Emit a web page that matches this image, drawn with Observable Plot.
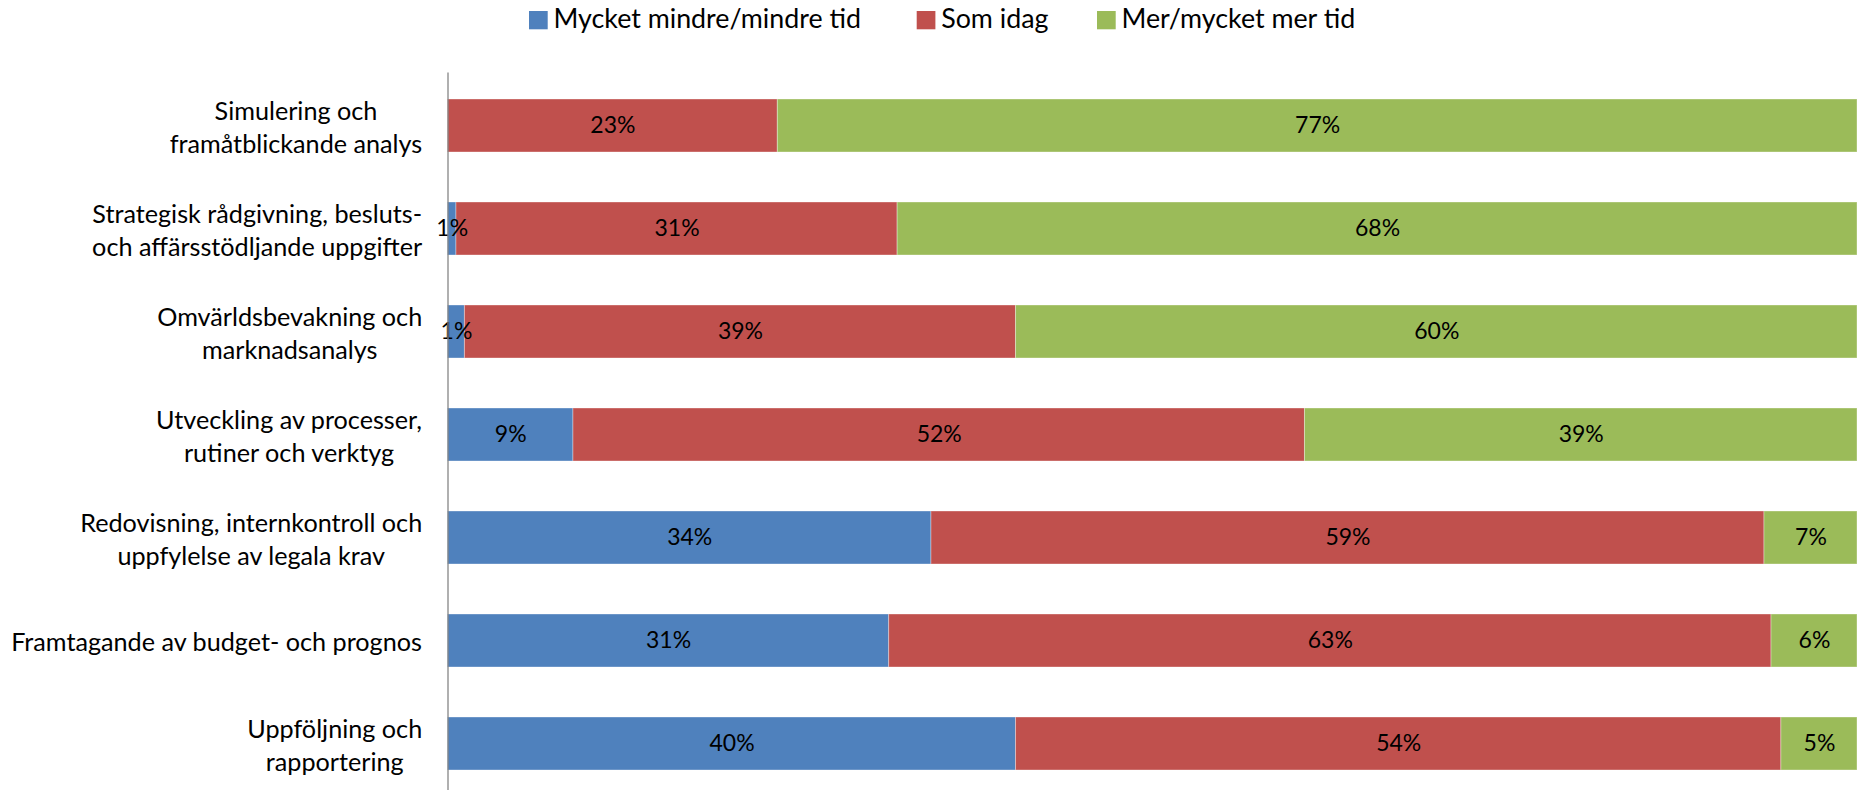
<!DOCTYPE html>
<html>
<head>
<meta charset="utf-8">
<script src="https://cdn.jsdelivr.net/npm/d3@7"></script>
<script src="https://cdn.jsdelivr.net/npm/@observablehq/plot@0.6"></script>
<style>
  html, body { margin: 0; padding: 0; background: #fff; overflow: hidden; }
  #legend { display: block; }
  #chart svg { display: block; }
</style>
</head>
<body>
<svg id="legend" width="1857" height="45"></svg>
<div id="chart"></div>
<script>
// ---- data ----
const categories = [
  "Simulering och\nframåtblickande analys",
  "Strategisk rådgivning, besluts-\noch affärsstödljande uppgifter",
  "Omvärldsbevakning och\nmarknadsanalys",
  "Utveckling av processer,\nrutiner och verktyg",
  "Redovisning, internkontroll och\nuppfylelse av legala krav",
  "Framtagande av budget- och prognos",
  "Uppföljning och\nrapportering"
];
const series = ["Mycket mindre/mindre tid", "Som idag", "Mer/mycket mer tid"];
const mindre  = [0,    0.6,  1.2,  8.9,  34.3, 31.3, 40.3];
const somIdag = [23.4, 31.3, 39.1, 51.9, 59.1, 62.6, 54.3];
const mer     = [76.6, 68.1, 59.7, 39.2, 6.6,  6.1,  5.4];
const colors  = ["#4F81BD", "#C0504D", "#9BBB59"];

const seriesValues = [mindre, somIdag, mer];
const data = categories.flatMap((c, i) =>
  series.map((s, j) => ({category: c, series: s, value: seriesValues[j][i]}))
);

const FONT = "Lato, 'Open Sans', sans-serif";
const LABEL_SIZE = 25.2;

// ---- legend (above the chart) ----
const legend = d3.select("#legend");
const legendX = [529, 916.7, 1097];
series.forEach((s, i) => {
  legend.append("rect")
    .attr("x", legendX[i]).attr("y", 11)
    .attr("width", 18.7).attr("height", 18.3)
    .attr("fill", colors[i]);
  legend.append("text")
    .attr("x", legendX[i] + 24.5).attr("y", 28.3)
    .attr("font-family", FONT)
    .attr("font-size", 26.8)
    .attr("fill", "#000")
    .text(s);
});

// width of the widest line of each category label (for Excel-style centred lines)
const ctx = document.createElement("canvas").getContext("2d");
ctx.font = `${LABEL_SIZE}px Lato`;
const labelWidth = c => d3.max(c.split("\n"), l => ctx.measureText(l).width);

// ---- chart ----
const chart = Plot.plot({
  width: 1857,
  height: 751,
  marginTop: 27.5,
  marginBottom: 0,
  marginLeft: 447.5,
  marginRight: 0,
  style: {fontFamily: FONT, background: "#fff"},
  x: {domain: [0, 100], axis: null},
  y: {domain: categories, axis: null, paddingInner: 0.487, paddingOuter: 0.2435},
  color: {domain: series, range: colors},
  marks: [
    Plot.barX(data, Plot.stackX({
      x: "value", y: "category", fill: "series", order: series,
      stroke: "#ffffff", strokeOpacity: 0.35, strokeWidth: 1
    })),
    Plot.text(data.filter(d => d.value > 0), Plot.stackX({
      x: "value", y: "category", z: "series", order: series,
      text: d => Math.round(d.value) + "%",
      fontSize: 23, fill: "#000", textAnchor: "middle"
    })),
    Plot.ruleX([0], {stroke: "#868686", strokeWidth: 1.3}),
    ...categories.map(c => Plot.text([c], {
      x: () => 0, y: d => d, text: d => d,
      textAnchor: "middle", dx: -25.8 - labelWidth(c) / 2,
      fontSize: LABEL_SIZE, lineHeight: 1.3, fill: "#000"
    }))
  ]
});
document.getElementById("chart").appendChild(chart);
</script>
</body>
</html>
